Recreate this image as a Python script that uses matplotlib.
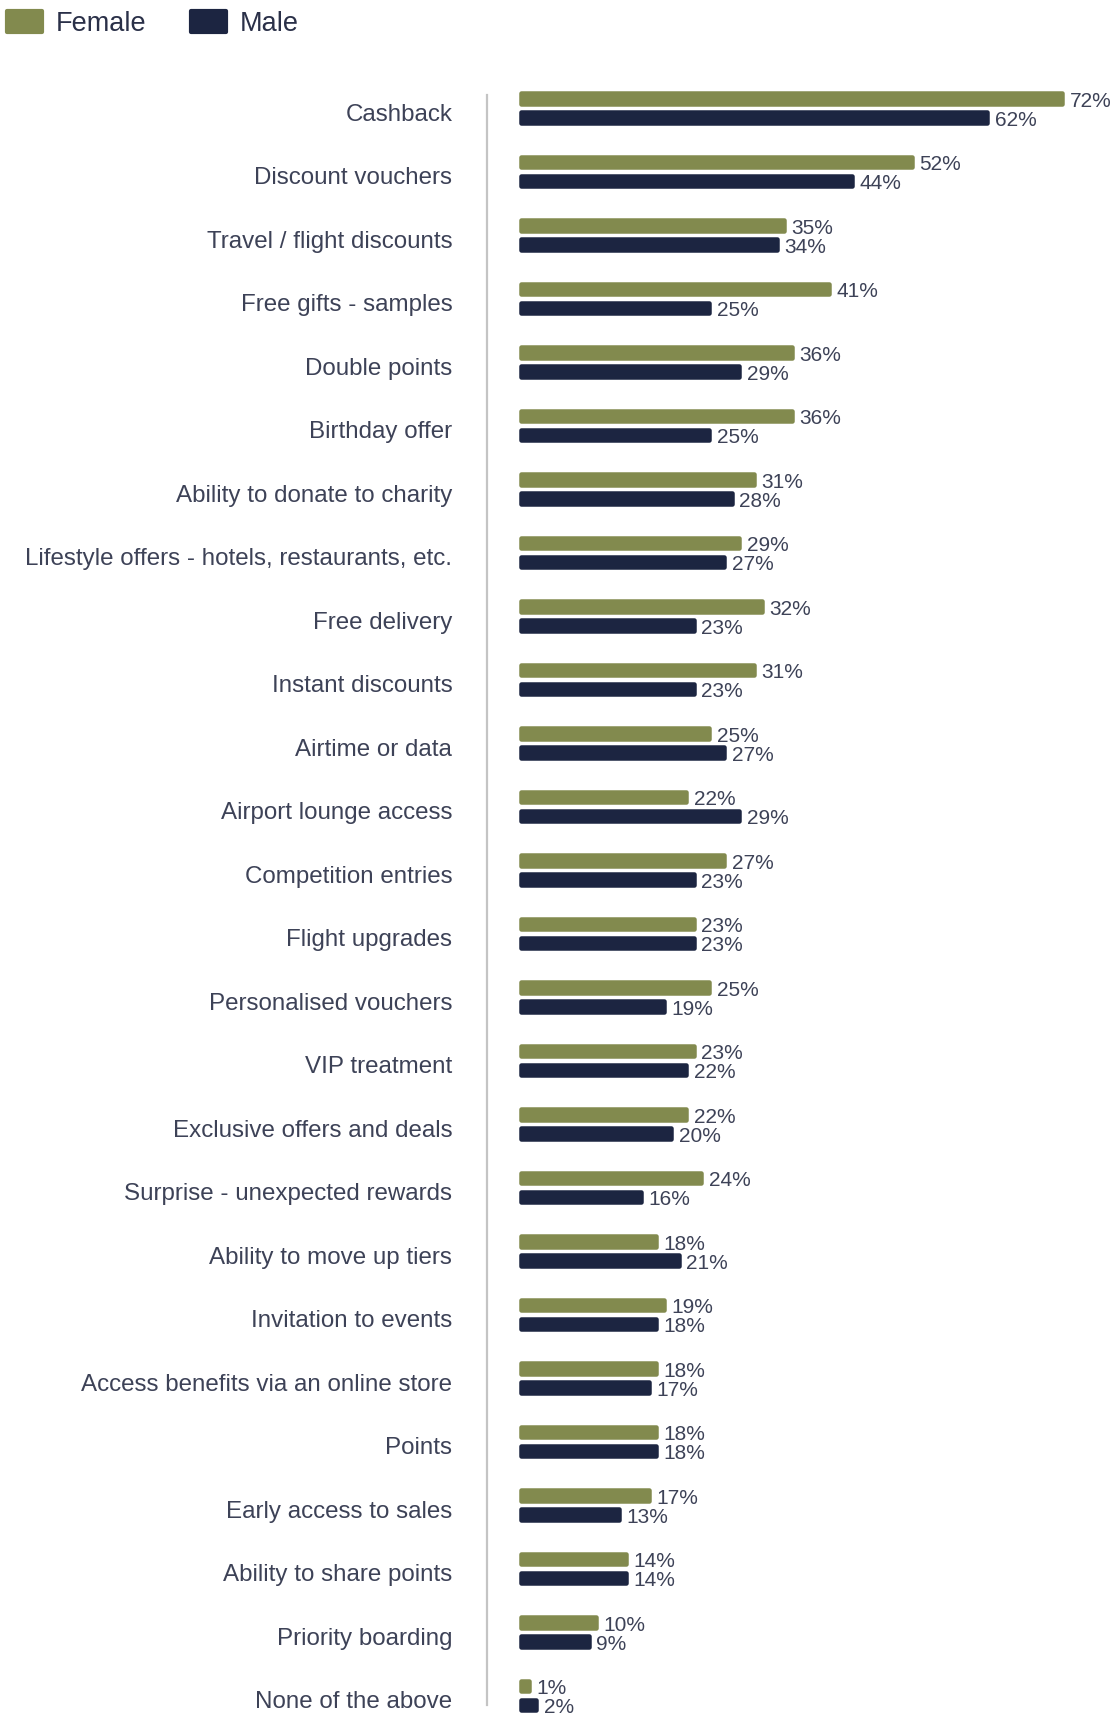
import numpy as np
import matplotlib.pyplot as plt

categories = [
    "Cashback", "Discount vouchers", "Travel / flight discounts",
    "Free gifts - samples", "Double points", "Birthday offer",
    "Ability to donate to charity",
    "Lifestyle offers - hotels, restaurants, etc.", "Free delivery",
    "Instant discounts", "Airtime or data", "Airport lounge access",
    "Competition entries", "Flight upgrades", "Personalised vouchers",
    "VIP treatment", "Exclusive offers and deals",
    "Surprise - unexpected rewards", "Ability to move up tiers",
    "Invitation to events", "Access benefits via an online store", "Points",
    "Early access to sales", "Ability to share points", "Priority boarding",
    "None of the above",
]
female = [72, 52, 35, 41, 36, 36, 31, 29, 32, 31, 25, 22, 27, 23, 25, 23,
          22, 24, 18, 19, 18, 18, 17, 14, 10, 1]
male = [62, 44, 34, 25, 29, 25, 28, 27, 23, 23, 27, 29, 23, 23, 19, 22,
        20, 16, 21, 18, 17, 18, 13, 14, 9, 2]

FEMALE_C = "#828a4e"
MALE_C = "#1c2541"
TEXT_C = "#3d4257"
FONT = ["Liberation Sans", "DejaVu Sans"]

W, H = 1116, 1716
AX_LEFT = 487      # x of the vertical axis line, px
ZERO_PX = 521      # x where bars start, px
PX_PER_PCT = 7.52
ROW_PX = 63.5
TOP_ROW_PX = 108   # centre of the first group, px

fig = plt.figure(figsize=(W / 100, H / 100), dpi=100)
ax = fig.add_axes([AX_LEFT / W, 0, 1 - AX_LEFT / W, 1636 / H])

y = np.arange(len(categories))
lw_px = 4.5
bar_h = (15 - lw_px) / ROW_PX
off = 9.5 / ROW_PX

fb = ax.barh(y - off, female, height=bar_h, color=FEMALE_C, edgecolor=FEMALE_C,
             linewidth=lw_px * 0.72, label="Female")
mb = ax.barh(y + off, male, height=bar_h, color=MALE_C, edgecolor=MALE_C,
             linewidth=lw_px * 0.72, label="Male")
for p in list(fb) + list(mb):
    p.set_joinstyle("round")
    p.set_clip_on(False)

# percentage labels sit just right of each bar
gap = 7.5 / PX_PER_PCT
for yi, v in zip(y - off, female):
    ax.text(v + gap, yi + 0.04, f"{v}%", va="center", ha="left",
            fontsize=15, color=TEXT_C, family=FONT)
for yi, v in zip(y + off, male):
    ax.text(v + gap, yi + 0.04, f"{v}%", va="center", ha="left",
            fontsize=15, color=TEXT_C, family=FONT, clip_on=False)

x0 = -(ZERO_PX - AX_LEFT) / PX_PER_PCT
ax.set_xlim(x0, x0 + (W - AX_LEFT) / PX_PER_PCT)
ax.set_ylim((H - TOP_ROW_PX) / ROW_PX, (80 - TOP_ROW_PX) / ROW_PX)

ax.set_yticks(y + 0.07)
ax.set_yticklabels(categories, family=FONT, fontsize=17.4, color=TEXT_C)
ax.tick_params(axis="y", length=0, pad=25)
ax.set_xticks([])

for s in ["top", "right", "bottom"]:
    ax.spines[s].set_visible(False)
ax.spines["left"].set_color("#c4c4c4")
ax.spines["left"].set_linewidth(1.6)
ax.spines["left"].set_bounds((1705 - TOP_ROW_PX) / ROW_PX, (95 - TOP_ROW_PX) / ROW_PX)

leg = fig.legend(handles=[fb, mb], labels=["Female", "Male"], loc="upper left",
                 bbox_to_anchor=(7 / W, 1 - 11 / H), ncol=2, frameon=False,
                 labelcolor="#2a3048", borderpad=0, borderaxespad=0,
                 handlelength=1.3, handleheight=0.8, handletextpad=0.5,
                 columnspacing=1.65, prop={"family": FONT, "size": 19.5})
for h in leg.legend_handles:
    h.set_joinstyle("round")
    h.set_linewidth(3)

fig.savefig("out.png", dpi=100)
